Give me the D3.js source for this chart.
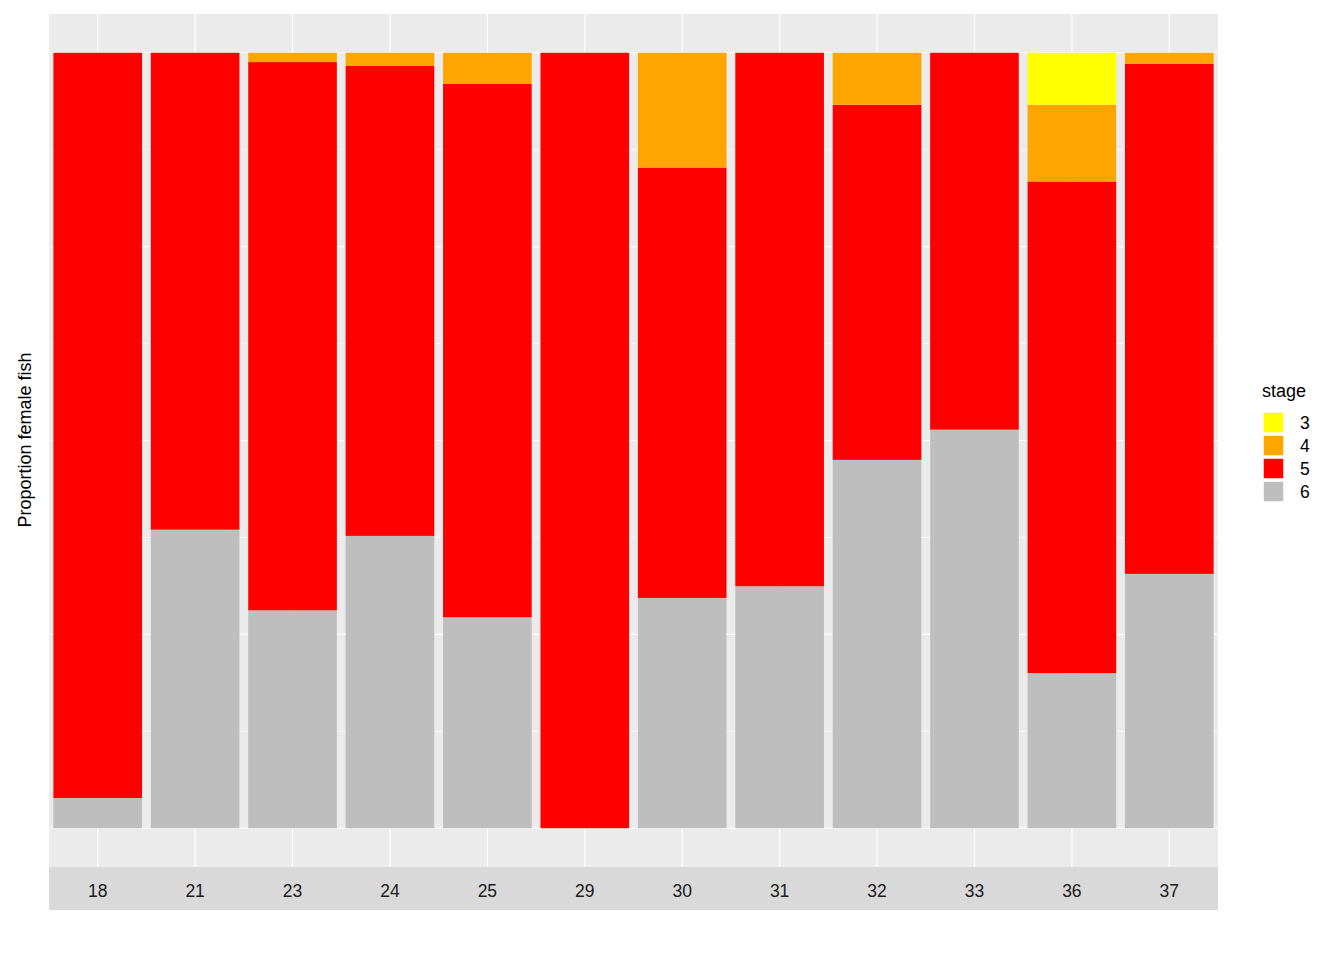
<!DOCTYPE html>
<html><head><meta charset="utf-8">
<script src="https://cdn.jsdelivr.net/npm/d3@7"></script>
<style>body{margin:0;background:#fff}text{font-family:Arial,"Liberation Sans",sans-serif}</style>
</head><body><svg id="c" width="1344" height="960"></svg>
<script>
const sizes = ['18','21','23','24','25','29','30','31','32','33','36','37'];
const stages = ['6','5','4','3'];
// proportion of fish per stage, per size class
const stage6 = [0.039,0.385,0.281,0.377,0.272,0,0.297,0.312,0.475,0.514,0.200,0.328];
const stage5 = [0.961,0.615,0.707,0.606,0.688,1,0.555,0.688,0.458,0.486,0.634,0.658];
const stage4 = [0,0,0.012,0.017,0.040,0,0.148,0,0.067,0,0.099,0.014];
const stage3 = [0,0,0,0,0,0,0,0,0,0,0.067,0];
const colors = {'3':'#ffff00','4':'#ffa500','5':'#ff0000','6':'#bebebe'};

const rows = sizes.map((s,i)=>({size:s,'6':stage6[i],'5':stage5[i],'4':stage4[i],'3':stage3[i]}));
const series = d3.stack().keys(stages)(rows);

const svg = d3.select('#c');
const L=49,R=1218,T=14,B=867;
const x = d3.scalePoint().domain(sizes).range([L,R]).padding(0.5);
const step = x.step();
const y = d3.scaleLinear().domain([-0.05,1.05]).range([B,T]);

svg.append('rect').attr('x',L).attr('y',T).attr('width',R-L).attr('height',B-T).attr('fill','#ebebeb');
const minor = [0.125,0.375,0.625,0.875];
svg.append('g').selectAll('line').data(minor).join('line')
  .attr('x1',L).attr('x2',R).attr('y1',d=>y(d)).attr('y2',d=>y(d))
  .attr('stroke','#fff').attr('stroke-width',0.6);
svg.append('g').selectAll('line').data([0,0.25,0.5,0.75,1]).join('line')
  .attr('x1',L).attr('x2',R).attr('y1',d=>y(d)).attr('y2',d=>y(d))
  .attr('stroke','#fff').attr('stroke-width',1.2);
svg.append('g').selectAll('line').data(sizes).join('line')
  .attr('x1',d=>x(d)).attr('x2',d=>x(d)).attr('y1',T).attr('y2',B)
  .attr('stroke','#fff').attr('stroke-width',1.2);

const bw = step*0.91;
svg.append('g').selectAll('g').data(series).join('g')
  .attr('fill',d=>colors[d.key])
  .selectAll('rect').data(d=>d).join('rect')
  .attr('x',d=>x(d.data.size)-bw/2).attr('width',bw)
  .attr('y',d=>y(d[1])).attr('height',d=>y(d[0])-y(d[1]));

// strip at bottom
svg.append('rect').attr('x',L).attr('y',B).attr('width',R-L).attr('height',43).attr('fill','#d9d9d9');
svg.append('g').selectAll('text').data(sizes).join('text')
  .attr('x',d=>x(d)).attr('y',B+30).attr('text-anchor','middle')
  .attr('font-size',17.5).attr('fill','#1a1a1a').text(d=>d);

svg.append('text').attr('transform','translate(31,440) rotate(-90)')
  .attr('text-anchor','middle').attr('font-size',18).attr('fill','#000').text('Proportion female fish');

// legend
const lg = svg.append('g').attr('transform','translate(1262,0)');
lg.append('text').attr('x',0).attr('y',397).attr('font-size',18).text('stage');
const lk = ['3','4','5','6'];
lg.selectAll('rect').data(lk).join('rect')
  .attr('x',1).attr('y',(d,i)=>412+i*23).attr('width',21).attr('height',21)
  .attr('fill',d=>colors[d]).attr('stroke','#fff').attr('stroke-width',1.5);
lg.selectAll('text.k').data(lk).join('text').attr('class','k')
  .attr('x',38).attr('y',(d,i)=>429+i*23).attr('font-size',17.5).attr('fill','#000').text(d=>d);
</script></body></html>
